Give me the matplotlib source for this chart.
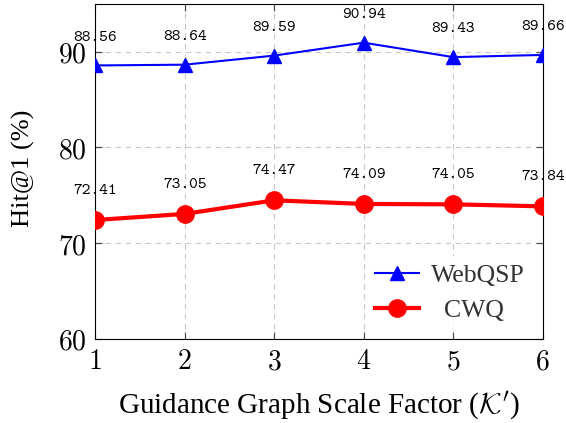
import numpy as np
import matplotlib.pyplot as plt

plt.rcParams['mathtext.fontset'] = 'cm'

# data
scaleFactor = [1, 2, 3, 4, 5, 6]
webqsp = [88.56, 88.64, 89.59, 90.94, 89.43, 89.66]
cwq = [72.41, 73.05, 74.47, 74.09, 74.05, 73.84]
yTicks = [60, 70, 80, 90]

fig = plt.figure(figsize=(5.66, 4.23), dpi=100)
ax = fig.add_axes([0.168, 0.199, 0.791, 0.792])

ax.plot(scaleFactor, webqsp, '-^', color='blue', linewidth=1.5, markersize=10,
        label='WebQSP', zorder=3)
ax.plot(scaleFactor, cwq, '-o', color='red', linewidth=3, markersize=12.5,
        label='  CWQ', zorder=3)

# value labels above points
for x, y in zip(scaleFactor, webqsp):
    ax.annotate(f'{y:.2f}', (x, y), xytext=(0, 20), textcoords='offset points',
                ha='center', va='center', fontsize=12, family='cmtt10')
for x, y in zip(scaleFactor, cwq):
    ax.annotate(f'{y:.2f}', (x, y), xytext=(0, 21), textcoords='offset points',
                ha='center', va='center', fontsize=12, family='cmtt10')

ax.set_xlim(1, 6)
ax.set_ylim(60, 95)
ax.set_xticks(scaleFactor)
ax.set_yticks(yTicks)
ax.set_xticklabels([f'${v}$' for v in scaleFactor], fontsize=20)
ax.set_yticklabels([f'${v}$' for v in yTicks], fontsize=20)
ax.tick_params(direction='in', top=True, right=True, length=5, width=0.8,
               color='#444444', pad=6)

ax.grid(True, linestyle=(0, (5, 4)), color='#c8c8c8', linewidth=0.8)
ax.set_axisbelow(True)

ax.set_xlabel(r"Guidance Graph Scale Factor ($\mathcal{K}'$)",
              fontsize=21, family='Liberation Serif', labelpad=10)
ax.set_ylabel('Hit@1 (%)', fontsize=19, family='Liberation Serif', labelpad=16)
ax.yaxis.set_label_coords(-0.135, 0.51)

leg = ax.legend(loc='lower right', bbox_to_anchor=(1.005, -0.01), frameon=True,
                prop={'family': 'Liberation Serif', 'size': 18.5},
                handlelength=1.7, handletextpad=0.45, borderpad=0.3,
                labelspacing=0.45, framealpha=0.8, edgecolor='none')
for t in leg.get_texts():
    t.set_alpha(0.8)

fig.savefig('out.png', dpi=100)
